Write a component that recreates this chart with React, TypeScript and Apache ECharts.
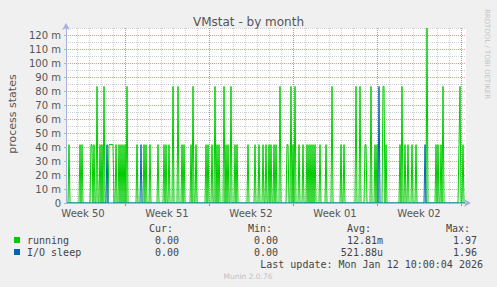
import React, { useEffect, useRef } from 'react';
import * as echarts from 'echarts';

// ---- time frame (hours counted from Mon Dec 8 2025 00:00) ----
const START_HOUR = 50;
const END_HOUR = 850;
const SLOT_HOURS = 2;
const SLOT_COUNT = 400;

// ---- series: non-zero 2h slots (all other slots read as 0) ----
const runningSlots = [
  3, 14, 16, 25, 26, 28, 31, 34, 36, 38, 43, 44, 45, 46, 47, 50, 53, 55, 57, 59, 61, 71, 78, 80, 84,
  92, 98, 100, 103, 107, 112, 116, 118, 125, 127, 130, 140, 142, 146, 149, 151, 153, 158, 160, 162,
  165, 169, 171, 182, 189, 193, 197, 200, 203, 205, 208, 210, 214, 221, 222, 225, 227, 229, 233, 237,
  241, 243, 245, 247, 249, 254, 260, 266, 275, 278, 290, 294, 299, 300, 305, 309, 311, 317, 318, 320,
  334, 336, 339, 342, 346, 350, 361, 370, 372, 375, 377, 393, 394, 397,
];
const runningValues = [
  0.0417, 0.0417, 0.0417, 0.0417, 0.0417, 0.0417, 0.0833, 0.0417, 0.0417, 0.0833, 0.0417, 0.0417, 0.0417, 0.0417, 0.0417, 0.0417, 0.0417, 0.0417, 0.0417, 0.0417, 0.0833, 0.0417, 0.0417, 0.0417, 0.0417,
  0.0417, 0.0417, 0.0417, 0.0417, 0.0833, 0.0833, 0.0417, 0.0417, 0.0417, 0.0833, 0.0417, 0.0417, 0.0417, 0.0417, 0.0833, 0.0417, 0.0417, 0.0833, 0.0417, 0.0417,
  0.0833, 0.0417, 0.0417, 0.0417, 0.0417, 0.0417, 0.0417, 0.0417, 0.0417, 0.0417, 0.0417, 0.0417, 0.0833, 0.0417, 0.0417, 0.0833, 0.0417, 0.0833, 0.0417, 0.0417,
  0.0417, 0.0417, 0.0417, 0.0417, 0.0417, 0.0417, 0.0417, 0.0833, 0.0417, 0.0417, 0.0833, 0.0833, 0.0417, 0.0417, 0.0833, 0.0417, 0.0417, 0.0833, 0.0833, 0.0417,
  0.0417, 0.0833, 0.0417, 0.0417, 0.0417, 0.0417, 0.125, 0.0417, 0.0417, 0.0417, 0.0833, 0.0417, 0.0833, 0.0417,
];
const ioSleepSlots = [41, 75, 313, 359];
const ioSleepValues = [0.0417, 0.0417, 0.0833, 0.0417];

// ---- axes ----
const weekBoundaryHours = [168, 336, 504, 672, 840];
const weekLabelHours = [84, 252, 420, 588, 756];
const weekLabels = ['Week 50', 'Week 51', 'Week 52', 'Week 01', 'Week 02'];
const dayGridHours = [
  72, 96, 120, 144, 168, 192, 216, 240, 264, 288, 312, 336, 360, 384, 408, 432, 456, 480, 504, 528,
  552, 576, 600, 624, 648, 672, 696, 720, 744, 768, 792, 816, 840,
];
const yTickValues = [0, 0.01, 0.02, 0.03, 0.04, 0.05, 0.06, 0.07, 0.08, 0.09, 0.1, 0.11, 0.12];
const yMinorValues = [0.005, 0.015, 0.025, 0.035, 0.045, 0.055, 0.065, 0.075, 0.085, 0.095, 0.105, 0.115, 0.125];

// ---- legend ----
const legendNames = ['running', 'I/O sleep'];
const legendColors = ['#00cc00', '#0066b3'];
const curValues = ['0.00', '0.00'];
const minValues = ['0.00', '0.00'];
const avgValues = ['12.81m', '521.88u'];
const maxValues = ['1.97', '1.96'];
const lastUpdate = 'Last update: Mon Jan 12 10:00:04 2026';

const SANS = '"DejaVu Sans", sans-serif';
const MONO = '"DejaVu Sans Mono", monospace';
const AXIS_COLOR = '#a8b0e0';
const MAJOR_GRID = 'rgba(225, 90, 90, 0.6)';
const MINOR_GRID = '#cfcfcf';

function buildSeries(slots: number[], values: number[]) {
  const m = new Map<number, number>();
  slots.forEach((s, i) => m.set(s, values[i]));
  return Array.from({ length: SLOT_COUNT }, (_, s) => [START_HOUR + s * SLOT_HOURS, m.get(s) ?? 0]);
}

function txt(text: string, x: number, y: number, opts: any = {}) {
  const align = opts.align || 'left';
  return {
    type: 'text',
    x,
    y,
    rotation: opts.rotation || 0,
    silent: true,
    style: {
      text,
      fill: opts.fill || '#444',
      fontSize: opts.fontSize || 10,
      fontFamily: opts.fontFamily || MONO,
      align,
      textAlign: align,
      verticalAlign: 'middle',
      textVerticalAlign: 'middle',
    },
  };
}

export default function App() {
  const ref = useRef<HTMLDivElement>(null);

  useEffect(() => {
    if (!ref.current) return;
    const chart = echarts.init(ref.current, null, { renderer: 'svg' });

    const hiddenAxisBits = {
      axisLine: { show: false },
      axisLabel: { show: false },
    };

    const colX = [173, 272, 371, 470];
    const valX = [179, 278, 383, 477];
    const headers = ['Cur:', 'Min:', 'Avg:', 'Max:'];
    const rowY = [240, 252];

    const graphics: any[] = [];
    graphics.push(txt('process states', 12, 114, { rotation: Math.PI / 2, align: 'center', fontFamily: SANS, fontSize: 11, fill: '#555' }));
    graphics.push(txt('RRDTOOL / TOBI OETIKER', 487, 54, { rotation: -Math.PI / 2, align: 'center', fontFamily: SANS, fontSize: 7, fill: '#c4c4c4' }));
    headers.forEach((h, i) => graphics.push(txt(h, colX[i], 228, { align: 'right' })));
    legendNames.forEach((name, r) => {
      graphics.push({
        type: 'rect',
        shape: { x: 14, y: rowY[r] - 3, width: 6, height: 6 },
        style: { fill: legendColors[r] },
        silent: true,
      });
      graphics.push(txt(name, 27, rowY[r]));
      const vals = [curValues[r], minValues[r], avgValues[r], maxValues[r]];
      vals.forEach((v, i) => graphics.push(txt(v, valX[i], rowY[r], { align: 'right' })));
    });
    graphics.push(txt(lastUpdate, 483, 264, { align: 'right' }));
    graphics.push(txt('Munin 2.0.76', 248, 276, { align: 'center', fontFamily: SANS, fontSize: 7.5, fill: '#c0c0c0' }));

    const option: any = {
      animation: false,
      backgroundColor: '#f0f0f0',
      title: {
        text: 'VMstat - by month',
        left: 'center',
        top: 11,
        textStyle: { fontFamily: SANS, fontSize: 12, fontWeight: 'normal', color: '#555' },
      },
      grid: {
        left: 66,
        top: 28,
        width: 400,
        height: 175,
        show: true,
        backgroundColor: '#ffffff',
        borderWidth: 0,
      },
      xAxis: [
        {
          type: 'value', min: START_HOUR, max: END_HOUR, position: 'bottom',
          ...hiddenAxisBits,
          axisTick: { show: false, customValues: dayGridHours },
          splitLine: { show: true, lineStyle: { color: MINOR_GRID, type: [1, 1], width: 1 } },
        },
        {
          type: 'value', min: START_HOUR, max: END_HOUR, position: 'bottom',
          axisLine: { show: false, onZero: false },
          axisTick: { show: true, customValues: weekBoundaryHours, length: 3, lineStyle: { color: '#e07070' } },
          axisLabel: {
            show: true,
            customValues: weekLabelHours,
            margin: 5,
            color: '#555',
            fontFamily: SANS,
            fontSize: 10,
            formatter: (v: number) => {
              const i = weekLabelHours.indexOf(Math.round(v));
              return i >= 0 ? weekLabels[i] : '';
            },
          },
          splitLine: { show: true, lineStyle: { color: MAJOR_GRID, type: [1, 1], width: 1 } },
        },
        {
          type: 'value', min: START_HOUR, max: END_HOUR, position: 'bottom', z: 10,
          axisLine: {
            show: true, onZero: false,
            lineStyle: { color: AXIS_COLOR, width: 1 },
            symbol: ['none', 'arrow'], symbolSize: [6, 7], symbolOffset: [0, 5],
          },
          axisTick: { show: false },
          axisLabel: { show: false },
          splitLine: { show: false },
        },
      ],
      yAxis: [
        {
          type: 'value', min: 0, max: 0.125, position: 'left',
          ...hiddenAxisBits,
          axisTick: { show: false, customValues: yMinorValues },
          splitLine: { show: true, lineStyle: { color: MINOR_GRID, type: [1, 1], width: 1 } },
        },
        {
          type: 'value', min: 0, max: 0.125, position: 'left',
          axisLine: { show: false },
          axisTick: { show: true, customValues: yTickValues, length: 2, lineStyle: { color: '#e0a0a0' } },
          axisLabel: {
            show: true,
            customValues: yTickValues,
            margin: 5,
            color: '#555',
            fontFamily: SANS,
            fontSize: 10,
            formatter: (v: number) => (v === 0 ? '0' : `${Math.round(v * 1000)} m`),
          },
          splitLine: { show: true, lineStyle: { color: MAJOR_GRID, type: [1, 1], width: 1 } },
        },
        {
          type: 'value', min: 0, max: 0.125, position: 'left', z: 10,
          axisLine: {
            show: true,
            lineStyle: { color: AXIS_COLOR, width: 1 },
            symbol: ['none', 'arrow'], symbolSize: [6, 7], symbolOffset: [0, 5],
          },
          axisTick: { show: false },
          axisLabel: { show: false },
          splitLine: { show: false },
        },
      ],
      series: [
        {
          name: legendNames[0],
          type: 'line',
          xAxisIndex: 1,
          yAxisIndex: 1,
          data: buildSeries(runningSlots, runningValues),
          showSymbol: false,
          symbol: 'none',
          lineStyle: { color: legendColors[0], width: 1 },
          itemStyle: { color: legendColors[0] },
          silent: true,
        },
        {
          name: legendNames[1],
          type: 'line',
          xAxisIndex: 1,
          yAxisIndex: 1,
          data: buildSeries(ioSleepSlots, ioSleepValues),
          showSymbol: false,
          symbol: 'none',
          lineStyle: { color: legendColors[1], width: 1 },
          itemStyle: { color: legendColors[1] },
          silent: true,
        },
      ],
      graphic: graphics,
    };

    chart.setOption(option);
    return () => chart.dispose();
  }, []);

  return (
    <div
      ref={ref}
      style={{ position: 'fixed', left: 0, top: 0, width: 497, height: 287, background: '#f0f0f0' }}
    />
  );
}
